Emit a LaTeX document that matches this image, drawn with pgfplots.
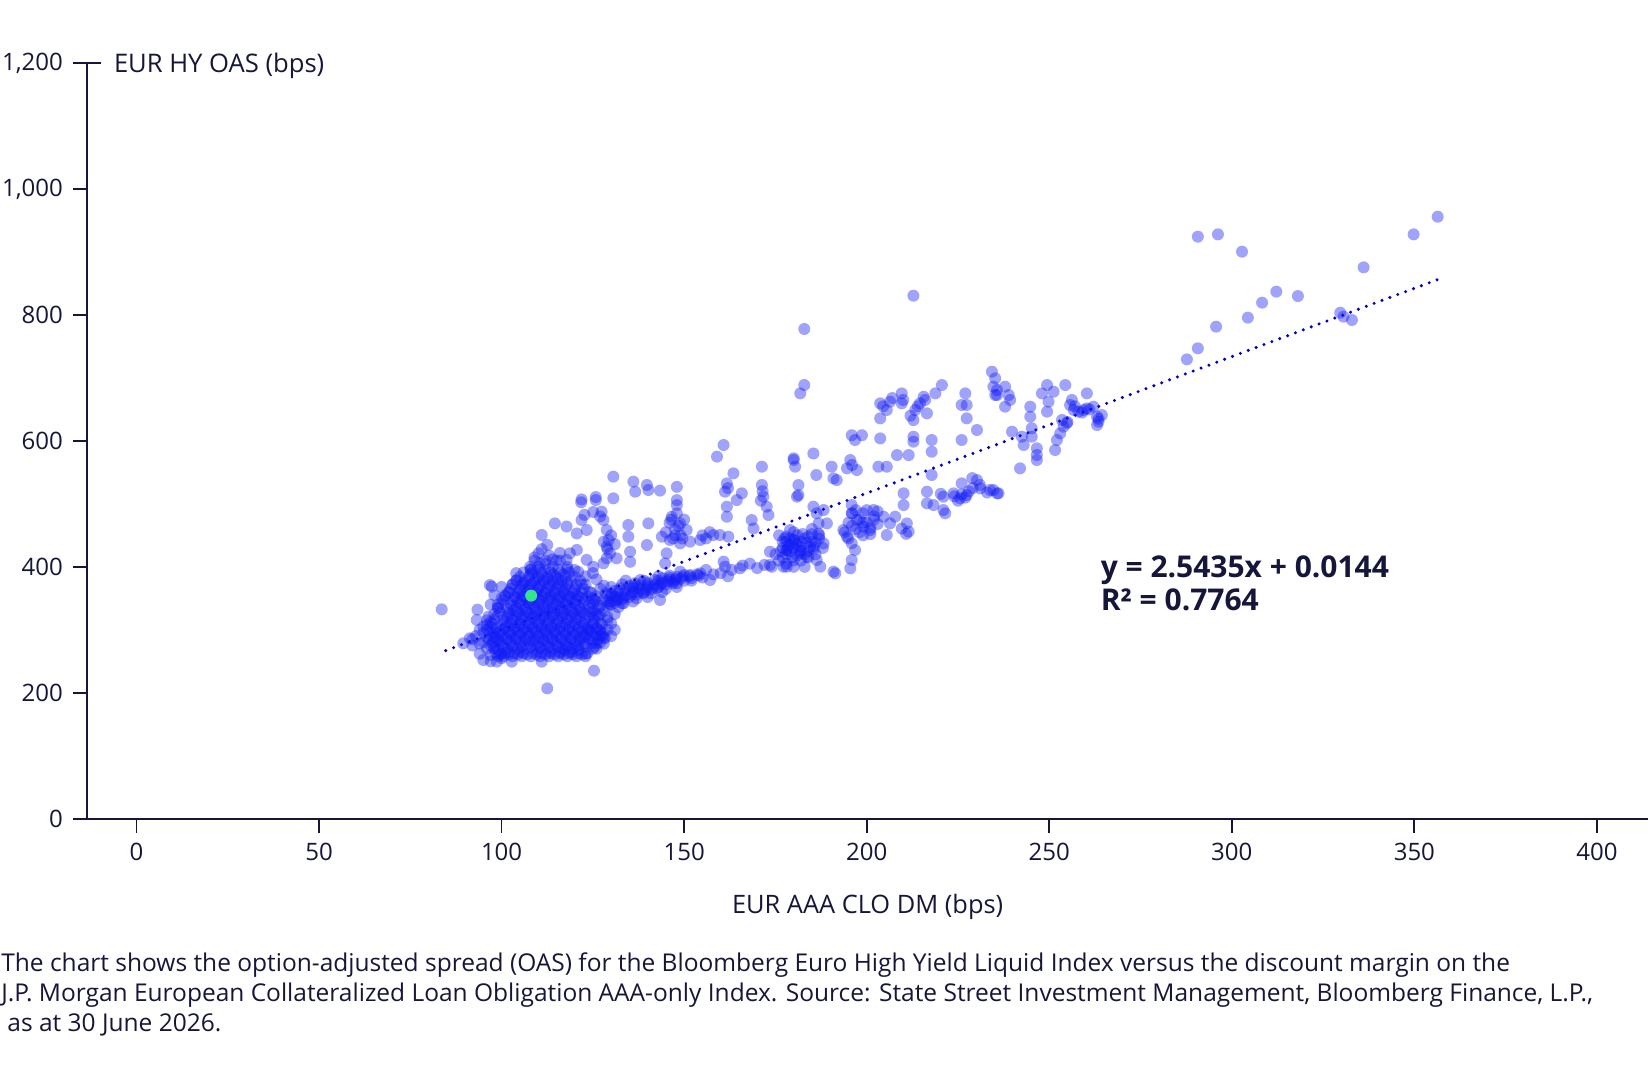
\documentclass[border=0pt]{standalone}
\usepackage{pgfplots}
\pgfplotsset{compat=1.18}
\usepackage{pgfplotstable}
\usepackage{fontspec}
\setmainfont{Open Sans}
\definecolor{navy}{RGB}{22,22,58}
\definecolor{ptblue}{RGB}{15,25,245}
\definecolor{ptgreen}{RGB}{50,230,140}
\definecolor{trend}{RGB}{0,0,200}

\pgfplotstableread{
x y
83.6 332.5
112.5 207
125.3 235
93.4 332
96.8 371
111 450.6
112.5 434.7
114.6 469
117.8 464
121.9 507
125.8 506
125.1 487
127 480
121.9 474.4
120.6 453
123.3 458.5
118.7 421.5
120.6 426.8
117.8 411
123.3 411
125.1 400
127.9 405.6
110.1 421.5
110.5 405.6
107.8 400
95 252
98.7 249.4
102.8 249.4
91.3 286.5
89.5 278.5
111 249.4
117.4 268
125.1 284
126 278.5
97.3 368.5
96.4 320.9
93.2 315.6
104.1 379
106 373.8
92 285
94 278
95 295
96 270
97 260
98 282
94 262
97 305
96 315
99 258
99 340
101 355
100 368
102 265
105 265
110 265
113 265
116 265
119 265
100 275
103 275
106 275
109 275
112 275
115 275
118 275
121 275
98 288
101 288
104 288
107 288
110 288
113 288
116 288
119 288
122 288
100 300
103 300
106 300
109 300
112 300
115 300
118 300
121 300
124 300
101 312
104 312
107 312
110 312
113 312
116 312
119 312
122 312
102 325
105 325
108 325
111 325
114 325
117 325
120 325
123 325
103 338
106 338
109 338
112 338
115 338
118 338
121 338
104 350
107 350
110 350
113 350
116 350
119 350
122 350
105 362
108 362
111 362
114 362
117 362
120 362
106 375
109 375
112 375
115 375
118 375
108 388
111 388
114 388
117 388
110 400
114 400
118 400
101.5 270
104.5 270
107.5 270
110.5 270
113.5 270
116.5 270
119.5 270
99.5 282
102.5 282
105.5 282
108.5 282
111.5 282
114.5 282
117.5 282
120.5 282
99.5 294
102.5 294
105.5 294
108.5 294
111.5 294
114.5 294
117.5 294
120.5 294
123.5 294
101.5 306
104.5 306
107.5 306
110.5 306
113.5 306
116.5 306
119.5 306
122.5 306
102.5 319
105.5 319
108.5 319
111.5 319
114.5 319
117.5 319
120.5 319
103.5 331
106.5 331
109.5 331
112.5 331
115.5 331
118.5 331
121.5 331
104.5 344
107.5 344
110.5 344
113.5 344
116.5 344
119.5 344
105.5 356
108.5 356
111.5 356
114.5 356
117.5 356
120.5 356
107.5 369
110.5 369
113.5 369
116.5 369
109.5 381
112.5 381
115.5 381
100.5 258
103 258
105.5 258
108 258
110.5 258
113 258
115.5 258
118 258
120.5 258
123 258
97.5 279
100 279
102.5 279
105 279
107.5 279
110 279
112.5 279
115 279
117.5 279
120 279
122.5 279
125 279
97 297
99.5 297
102 297
104.5 297
107 297
109.5 297
112 297
114.5 297
117 297
119.5 297
122 297
124.5 297
127 297
98 316
100.5 316
103 316
105.5 316
108 316
110.5 316
113 316
115.5 316
118 316
120.5 316
123 316
125.5 316
99 334
101.5 334
104 334
106.5 334
109 334
111.5 334
114 334
116.5 334
119 334
121.5 334
124 334
126.5 334
101 353
103.5 353
106 353
108.5 353
111 353
113.5 353
116 353
118.5 353
121 353
123.5 353
126 353
103 372
105.5 372
108 372
110.5 372
113 372
115.5 372
118 372
120.5 372
123 372
106 391
108.5 391
111 391
113.5 391
116 391
118.5 391
98.5 263
101 263
103.5 263
106 263
108.5 263
111 263
113.5 263
116 263
118.5 263
121 263
123.5 263
96.5 285
99 285
101.5 285
104 285
106.5 285
109 285
111.5 285
114 285
116.5 285
119 285
121.5 285
124 285
126.5 285
97.5 309
100 309
102.5 309
105 309
107.5 309
110 309
112.5 309
115 309
117.5 309
120 309
122.5 309
125 309
127.5 309
99.5 328
102 328
104.5 328
107 328
109.5 328
112 328
114.5 328
117 328
119.5 328
122 328
124.5 328
100.5 347
103 347
105.5 347
108 347
110.5 347
113 347
115.5 347
118 347
120.5 347
123 347
125.5 347
102.5 365
105 365
107.5 365
110 365
112.5 365
115 365
117.5 365
120 365
122.5 365
105 384
107.5 384
110 384
112.5 384
115 384
117.5 384
120 384
99.5 261
102 261
104.5 261
107 261
109.5 261
112 261
114.5 261
117 261
119.5 261
122 261
98 273
100.5 273
103 273
105.5 273
108 273
110.5 273
113 273
115.5 273
118 273
120.5 273
123 273
125.5 273
97.5 291
100 291
102.5 291
105 291
107.5 291
110 291
112.5 291
115 291
117.5 291
120 291
122.5 291
125 291
127.5 291
98.5 303
101 303
103.5 303
106 303
108.5 303
111 303
113.5 303
116 303
118.5 303
121 303
123.5 303
126 303
99 322
101.5 322
104 322
106.5 322
109 322
111.5 322
114 322
116.5 322
119 322
121.5 322
124 322
126.5 322
100 341
102.5 341
105 341
107.5 341
110 341
112.5 341
115 341
117.5 341
120 341
122.5 341
125 341
102 359
104.5 359
107 359
109.5 359
112 359
114.5 359
117 359
119.5 359
122 359
124.5 359
104 378
106.5 378
109 378
111.5 378
114 378
116.5 378
119 378
121.5 378
108 396
110.5 396
113 396
115.5 396
118 396
109 410
112 410
116 410
109 415
113 418
116 422
111 428
114 412
96 300
97 312
98 325
99 335
96 288
98 270
100 262
97 340
100 350
102 360
103 372
98 355
95 305
125 310
126 325
127 338
125 350
124 340
126 292
127 280
123 278
125 270
129 345
130 355
128 370
126 380
123 385
121 392
125 390
112 405
115 410
108 395
104 390
120 395
93 290
95 280
97 275
99 268
94 300
96 308
98 296
92 275
100 255
97 250
128 295
130 310
129 320
127 290
126 302
130 290
131 300
129 315
127 325
125 330
128 278
126 270
123 290
124 300
127 310
125 320
128 330
126 345
129 355
127 365
124 360
122 372
130 340
131 325
129 300
128 288
123 262
121 268
127 299.6
128.3 286.4
130 345
132 350
134 355
133 342
136 360
138 365
137 350
140 368
142 372
141 358
144 375
146 380
145 365
148 384
150 387
135 370
139 378
143 385
147 374
131 362
133 372
136.1 368.5
138 379
138.8 357.9
142.5 365.8
143.4 347.3
131.5 352.6
133.4 342
129 338
131 343
133 348
135 352
137 356
139 360
141 364
143 368
145 372
147 377
149 381
130 356
132 360
134 364
136 366
138 371
140 375
142 379
144 382
146 386
128 348
132 336
136 345
140 352
144 360
148 368
150 378
152 382
154 386
134 378
130 368
129.5 341
131.5 347
133.5 351
135.5 356
137.5 360
139.5 364
141.5 368
143.5 372
145.5 377
147.5 380
149.5 384
151.5 385
153.5 388
131 352
134 360
137 368
140 372
143 378
146 383
128.5 358
132.5 366
136.5 374
148.9 392.3
151.6 387
154.4 389.6
157.1 379
148 373.8
152 378
155 383
158 388
160.8 408.2
161.2 400.2
165.3 397.6
163 395
166 402
168 405
170 398
172 403
174 400
160 390
162 385
156 395
160.8 593.5
159 575
130.6 543.2
130.6 508.8
136.1 535.2
136.6 519.3
139.8 530
140.2 522
143.4 521
148 527
148 506
148 498
146.6 479.6
148.9 469
150.7 458.5
140.2 469
134.7 466.4
134.7 447.9
128.8 458.5
128.8 432
128.8 413.5
135.2 424
135.2 408
139.8 434.6
143.9 447.9
146.1 442.6
148.9 437.3
151.6 440
154.4 442.6
145.2 421.4
144.8 405.5
158 450.5
159.8 450.5
162.1 447.9
163.5 548.5
161.7 532.5
161.2 519.3
164.4 506
165.8 516.7
161.7 495.5
161.7 479.6
171.3 559
171.3 530
171.7 511.4
172.6 495.5
173.1 482.3
168.5 474.3
169 461
180 569.6
180.9 511.4
173.5 424
173.5 402.9
177.2 400.2
178.1 426.7
180 442.6
127.4 487.6
127.9 474.4
129.3 442.6
129.7 421.4
131.5 413.5
147 445
149 450
147.5 460
146 470
150 475
148 485
145 455
147.5 450
148.5 465
146.5 475
149.5 445
128 440
130 450
129 428
131 436
155 450
157 455
156 445
121.8 502.5
122.7 482.5
125.8 510.8
171.5 520
171 505
162 525
181.8 675.5
182.9 688.7
234.3 709.9
234.7 686.1
235.7 672.8
203.7 659.6
203.7 635.8
205.5 649
206.4 662.2
209.6 675.5
209.6 659.6
213.3 649
214.6 659.6
215.6 670
216.5 643.7
218.8 675.5
220.6 688.7
212.8 633
204.5 655
207 668
210 665
214 655
216 665
212 640
227 675.5
226 657
227.4 657
227.4 635.8
230.2 617.3
226 601.4
195.9 609
196.8 601.4
198.7 609
203.7 604
212.8 606.6
212.8 598.7
217.8 601.4
217.8 582.8
208.3 577.5
211.5 577.5
180 572.3
180.4 559
185.4 580
203.2 559
205.5 559
195.5 569.6
196 561.7
194.6 556.4
197.3 553.7
190.4 559
190.9 540.5
191.8 537.8
186.2 545.8
181.3 529.9
181.3 514
217.8 545.8
210.1 516.7
210.1 498.1
216.5 519.3
216.5 500.8
218.3 498.1
221 511.4
221 490.2
221.5 484.9
223.8 516.7
225.6 508.8
227.4 514
230.2 537.8
231.1 524.6
233.8 522
235.7 516.7
229 525
231 530
233 518
227 510
185.4 495.5
186.3 484.9
188.2 490.2
186.8 469
189.1 469
186.8 453
195.9 498.1
195.9 484.9
197.3 474.3
199.1 463.7
201 458.4
201.9 490.2
204.6 479.6
206.4 469
205.5 450.5
211 469
211.5 455.8
207.8 479.6
193.6 458.4
194.6 447.9
195.9 437.3
196.8 426.7
195.9 410.8
195.5 397.6
190.9 392.3
191.4 389.6
179 458.4
180 442.6
178.1 426.7
181.8 421.4
178.1 400.2
183.6 416.1
186.3 410.8
187.3 400.2
185.4 432
188.2 437.3
176 410
178 420
180 430
182 440
178 440
176 450
180 455
184 448
186 438
182 425
184 415
178 405
183 400
186 420
188 430
177 430
179 445
181 418
185 460
187 445
175 420
177 415
179 425
181 435
183 445
185 452
178 448
180 410
182 432
184 425
179 435
181 450
177 440
183 420
185 440
187 450
176.5 425
178.5 432
180.5 438
182.5 452
184.5 432
179.5 415
181.5 426
183.5 438
177.5 445
185.5 428
180 400
182 410
195 470
197 460
199 450
201 462
196 485
198 475
200 490
194 455
202 475
195 445
203 488
199 470
196 465
198 455
200 470
202 480
197 490
199 485
201 452
203 468
224 512
226 515
225 505
228 520
209.6 460.8
210.8 452.4
220.3 515.9
226 532.6
228.9 540.9
287.7 729.5
235.2 699.3
235.7 680.8
235.2 672.8
237.9 686.1
238.9 672.8
239.3 665
237.9 654.3
249.4 688.7
248 675.5
251.2 678.1
249.8 662.3
249.4 646.4
254.4 688.7
260.3 675.5
256.2 665
255.7 657
256.7 649
258 646.4
259.4 649
260.3 651.7
262.1 654.3
263.1 638.4
263.5 630.5
264.4 641
263.1 625.2
257 655
259 645
261 650
263.5 635
255 630
244.8 654.3
244.8 638.4
253.5 633.2
253.9 622.6
254.8 627.9
253 612
252.1 601.4
251.6 585.5
239.8 614.6
242.5 606.7
243 593.5
245.2 620
245.2 606.7
246.6 588.2
246.6 577.6
246.6 569.6
242 556.4
234.7 522
236.1 516.7
290.7 924.3
296.2 928
302.8 900.5
336.1 875.6
349.8 928
356.4 956
312.2 837
308.3 819.5
304.4 795.7
318.1 830
295.7 781.4
290.7 747
329.7 803.6
330.6 797.3
332.9 792
182.9 777.7
212.8 830.6
}\scatterdata

\begin{document}
\begin{tikzpicture}
\begin{axis}[
  at={(0,0)}, anchor=south west,
  scale only axis, width=780.4pt, height=377.8pt,
  xmin=-13.5, xmax=414, ymin=0, ymax=1200,
  axis x line=bottom, axis y line=left,
  axis line style={-, navy, line width=1.1pt},
  xtick={0,50,...,400}, ytick={0,200,...,1200},
  tick align=outside, major tick length=7pt,
  tick style={navy, line width=0.9pt},
  /pgf/number format/assume math mode=true,
  /pgf/number format/1000 sep={,},
  ticklabel style={font=\fontsize{12}{14}\selectfont, text=navy},
  yticklabel style={inner sep=0pt, xshift=-5pt},
  xticklabel style={inner sep=0pt, yshift=-5pt},
]
\addplot[ptblue, only marks, mark=*, mark size=3pt,
  mark options={draw opacity=0, line width=0pt, fill=ptblue, fill opacity=0.40}]
  table[x=x, y=y] {\scatterdata};
\addplot[trend, line width=1.7pt, dash pattern=on 0pt off 4.2pt, line cap=round]
  coordinates {(84.7,267) (357.7,859)};
\addplot[ptgreen, only marks, mark=*, mark size=3pt,
  mark options={draw opacity=0, line width=0pt, fill=ptgreen}]
  coordinates {(108.1,354.2)};
\node[anchor=west, inner sep=0pt, align=left, text=navy,
  font=\fontsize{15}{16.8}\selectfont\bfseries] at (axis cs:264,374)
  {y = 2.5435x + 0.0144\\R² = 0.7764};
\end{axis}
\draw[navy, line width=0.9pt] (0,377.8pt) -- (7pt,377.8pt);
\node[anchor=west, inner sep=0pt, text=navy, font=\fontsize{12.8}{14}\selectfont]
  at (13.2pt,376.3pt) {EUR HY OAS (bps)};
\node[anchor=center, inner sep=0pt, text=navy, font=\fontsize{12.7}{14}\selectfont]
  at (390.2pt,-44.2pt) {EUR AAA CLO DM (bps)};
\begin{scope}[every node/.style={anchor=base west, inner sep=0pt, text=navy, font=\fontsize{12.25}{14}\selectfont}]
\node at (-43.1pt,-76.2pt) {The chart shows the option-adjusted spread (OAS) for the Bloomberg Euro High Yield Liquid Index versus the discount margin on the};
\node at (-43.1pt,-91.2pt) {J.P. Morgan European Collateralized Loan Obligation AAA-only Index. Source: State Street Investment Management, Bloomberg Finance, L.P.,};
\node at (-40.1pt,-106.2pt) {as at 30 June 2026.};
\end{scope}
\pgfresetboundingbox
\path[use as bounding box] (-43.6pt,-130.65pt) rectangle (780.4pt,409.35pt);
\end{tikzpicture}
\end{document}
